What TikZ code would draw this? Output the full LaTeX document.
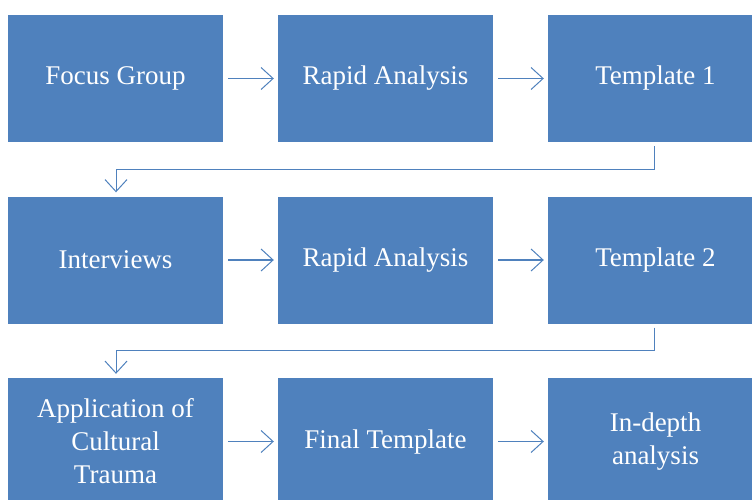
\documentclass[tikz,border=0pt]{standalone}
\usepackage{fontspec}
\setmainfont{Liberation Serif}
\usetikzlibrary{arrows.meta}
\definecolor{boxblue}{HTML}{4F81BD}
\tikzset{
  box/.style={fill=boxblue, draw=none, minimum width=215pt, minimum height=127pt,
    inner sep=0pt, text=white, font=\fontsize{27}{33}\selectfont, align=center},
  conn/.style={draw=boxblue, line width=1pt, -{Straight Barb[length=12pt,width=22pt,line width=1pt]}},
  thickconn/.style={conn, line width=2pt}
}
\begin{document}
\begin{tikzpicture}[x=1pt,y=1pt]
\useasboundingbox (0,0) rectangle (752,-499);
\clip (0,0) rectangle (752,-499);
\node[box] (fg) at (115.5,-78.5) {Focus Group};
\node[box] (ra1) at (385.5,-78.5) {Rapid Analysis};
\node[box] (t1) at (655.5,-78.5) {Template 1};
\node[box] (iv) at (115.5,-260) {Interviews};
\node[box] (ra2) at (385.5,-260) {Rapid Analysis};
\node[box] (t2) at (655.5,-260) {Template 2};
\node[box] (ac) at (115.5,-441.5) {Application of\\Cultural\\Trauma};
\node[box] (ft) at (385.5,-441.5) {Final Template};
\node[box] (ia) at (655.5,-441.5) {In-depth\\analysis};
\draw[conn] ([xshift=5pt]fg.east) -- ([xshift=-4pt]ra1.west);
\draw[conn] ([xshift=5pt]ra1.east) -- ([xshift=-4pt]t1.west);
\draw[thickconn] ([xshift=5pt]iv.east) -- ([xshift=-4pt]ra2.west);
\draw[thickconn] ([xshift=5pt]ra2.east) -- ([xshift=-4pt]t2.west);
\draw[conn] ([xshift=5pt]ac.east) -- ([xshift=-4pt]ft.west);
\draw[conn] ([xshift=5pt]ft.east) -- ([xshift=-4pt]ia.west);
\draw[conn] ([xshift=-1.5pt,yshift=-4pt]t1.south) -- ++(0,-23) -| ([xshift=0.5pt,yshift=4pt]iv.north);
\draw[conn] ([xshift=-1.5pt,yshift=-4pt]t2.south) -- ++(0,-23) -| ([xshift=0.5pt,yshift=4pt]ac.north);
\end{tikzpicture}
\end{document}
